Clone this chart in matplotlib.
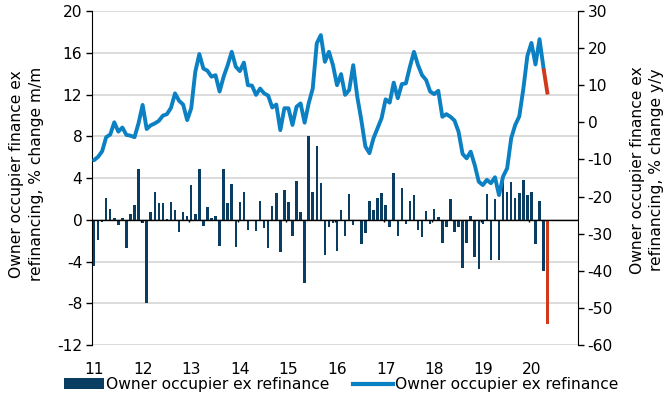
import matplotlib
matplotlib.use("Agg")
import matplotlib.pyplot as plt
import numpy as np
from matplotlib.patches import Patch
from matplotlib.lines import Line2D

plt.rcParams['font.family'] = ['DejaVu Sans']
plt.rcParams['axes.unicode_minus'] = False

# ---- data (monthly, Jan 2011 .. May 2020) ----
year_labels = ['11', '12', '13', '14', '15', '16', '17', '18', '19', '20']

mm_change = [
    -4.4, -1.9, -0.25, 2.1, 1.05, 0.15, -0.5, 0.2, -2.7, 0.55, 1.45, 4.9,      # 2011
    -0.3, -8.0, 0.7, 2.7, 1.6, 1.6, 0.05, 1.7, 0.9, -1.2, 0.7, 0.4,            # 2012
    3.3, 0.55, 4.9, -0.6, 1.2, 0.15, 0.35, -2.5, 4.9, 1.6, 3.4, -2.6,          # 2013
    1.7, 2.7, -1.0, -0.1, -1.05, 1.8, -0.8, -2.7, 1.35, 2.6, -3.1, 2.85,       # 2014
    1.7, -1.6, 3.75, 0.7, -6.1, 8.0, 2.7, 7.1, 3.5, -3.35, -0.65, -0.3,        # 2015
    -3.0, 0.9, -1.6, 2.45, -0.55, -0.15, -2.35, -1.3, 1.8, 0.9, 2.1, 2.55,     # 2016
    1.45, -0.65, 4.5, -1.6, 3.0, -0.45, 1.8, 2.35, -1.0, -1.7, 0.85, -0.45,    # 2017
    1.05, 0.3, -2.2, -0.65, 2.0, -1.2, -0.65, -4.6, -2.2, 0.4, -3.6, -4.7,     # 2018
    -0.4, 2.45, -3.85, 2.0, -3.85, 4.0, 2.7, 3.6, 2.1, 2.6, 3.8, 2.35,         # 2019
    2.7, -2.35, 1.8, -4.9, -10.0,                                              # 2020
]

yy_change = [
    -10.2, -9.3, -7.8, -4.0, -3.3, 0.0, -2.5, -1.4, -3.4, -3.6, -4.0, -0.2,    # 2011
    4.7, -1.8, -0.8, -0.3, 0.4, 1.8, 2.2, 3.9, 7.8, 5.8, 4.8, 0.6,             # 2012
    3.8, 13.6, 18.4, 14.5, 13.9, 12.3, 12.7, 8.3, 12.3, 15.4, 19.0, 15.0,      # 2013
    13.8, 16.1, 10.0, 9.9, 7.4, 9.1, 7.8, 7.2, 4.0, 4.8, -2.1, 3.8,            # 2014
    3.8, -0.7, 4.2, 5.1, -0.1, 5.1, 9.1, 21.3, 23.5, 16.3, 19.0, 15.4,         # 2015
    10.0, 13.0, 7.4, 8.7, 15.4, 6.9, 0.6, -6.5, -8.3, -4.3, -1.6, 1.1,         # 2016
    6.2, 5.3, 10.7, 6.5, 10.3, 10.5, 15.0, 19.0, 15.4, 12.7, 11.4, 8.3,        # 2017
    7.6, 8.5, 1.5, 2.2, 1.5, 0.5, -2.5, -8.5, -9.7, -7.9, -11.5, -16.0,        # 2018
    -16.9, -15.5, -16.4, -14.8, -19.6, -14.6, -12.4, -4.3, -0.7, 1.6, 9.0, 17.9,  # 2019
    21.4, 15.6, 22.4, 14.5, 7.5,                                               # 2020
]

n_highlight = 1  # latest month shown in red

bar_color = '#0a3d62'
line_color = '#0b80c2'
hl_color = '#d2381a'
grid_color = '#d9d9d9'
FS = 11.2

fig = plt.figure(figsize=(6.7, 4.0), dpi=100)
ax = fig.add_axes([92 / 670, 1 - 345 / 400, 486 / 670, 334 / 400])

n = len(mm_change)
x = np.arange(n)
colors = [bar_color] * (n - n_highlight) + [hl_color] * n_highlight
ax.bar(x, mm_change, width=0.62, color=colors, zorder=3)

ax.set_ylim(-12, 20)
ax.set_yticks(np.arange(-12, 21, 4))
ax.grid(axis='y', color=grid_color, lw=1.3, zorder=0)
ax.set_axisbelow(True)
ax.set_xlim(-0.5, 119.5)

ax.axhline(0, color='black', lw=1.0, zorder=4)
bounds = np.arange(1, len(year_labels)) * 12 - 0.5
ax.vlines(bounds, -0.25, 0, color='black', lw=1.0, zorder=4)

ax.set_xticks(np.arange(len(year_labels)) * 12)
ax.set_xticklabels(year_labels)
ax.tick_params(axis='x', length=0, pad=12, labelsize=FS)
ax.tick_params(axis='y', direction='out', length=4, width=1, labelsize=FS, pad=3)
for s in ['top', 'bottom', 'right']:
    ax.spines[s].set_visible(False)
ax.spines['left'].set_color('black')

ax2 = ax.twinx()
k = n - n_highlight
ax2.plot(x[:k], yy_change[:k], color=line_color, lw=2.8, solid_capstyle='round',
         solid_joinstyle='round', zorder=5)
ax2.plot(x[k - 1:], yy_change[k - 1:], color=hl_color, lw=2.8, solid_capstyle='butt', zorder=5)
ax2.set_ylim(-60, 30)
ax2.set_yticks(np.arange(-60, 31, 10))
ax2.tick_params(axis='y', direction='out', length=4, width=1, labelsize=FS, pad=3)
for s in ['top', 'bottom', 'left']:
    ax2.spines[s].set_visible(False)
ax2.spines['right'].set_color('black')

fig.text(0.040, 0.565, 'Owner occupier finance ex\nrefinancing, % change m/m',
         rotation=90, ha='center', va='center', fontsize=FS, multialignment='center',
         linespacing=1.45)
fig.text(0.966, 0.575, 'Owner occupier finance ex\nrefinancing, % change y/y',
         rotation=90, ha='center', va='center', fontsize=FS, multialignment='center',
         linespacing=1.3)

handles = [Patch(facecolor=bar_color, edgecolor='none'),
           Line2D([0], [0], color=line_color, lw=3)]
fig.legend(handles, ['Owner occupier ex refinance', 'Owner occupier ex refinance'],
           loc='center', bbox_to_anchor=(0.509, 0.038), ncol=2, frameon=False,
           fontsize=FS, handlelength=2.6, handleheight=0.7, handletextpad=0.1,
           columnspacing=1.5, borderaxespad=0)

fig.savefig('out.png', dpi=100)
